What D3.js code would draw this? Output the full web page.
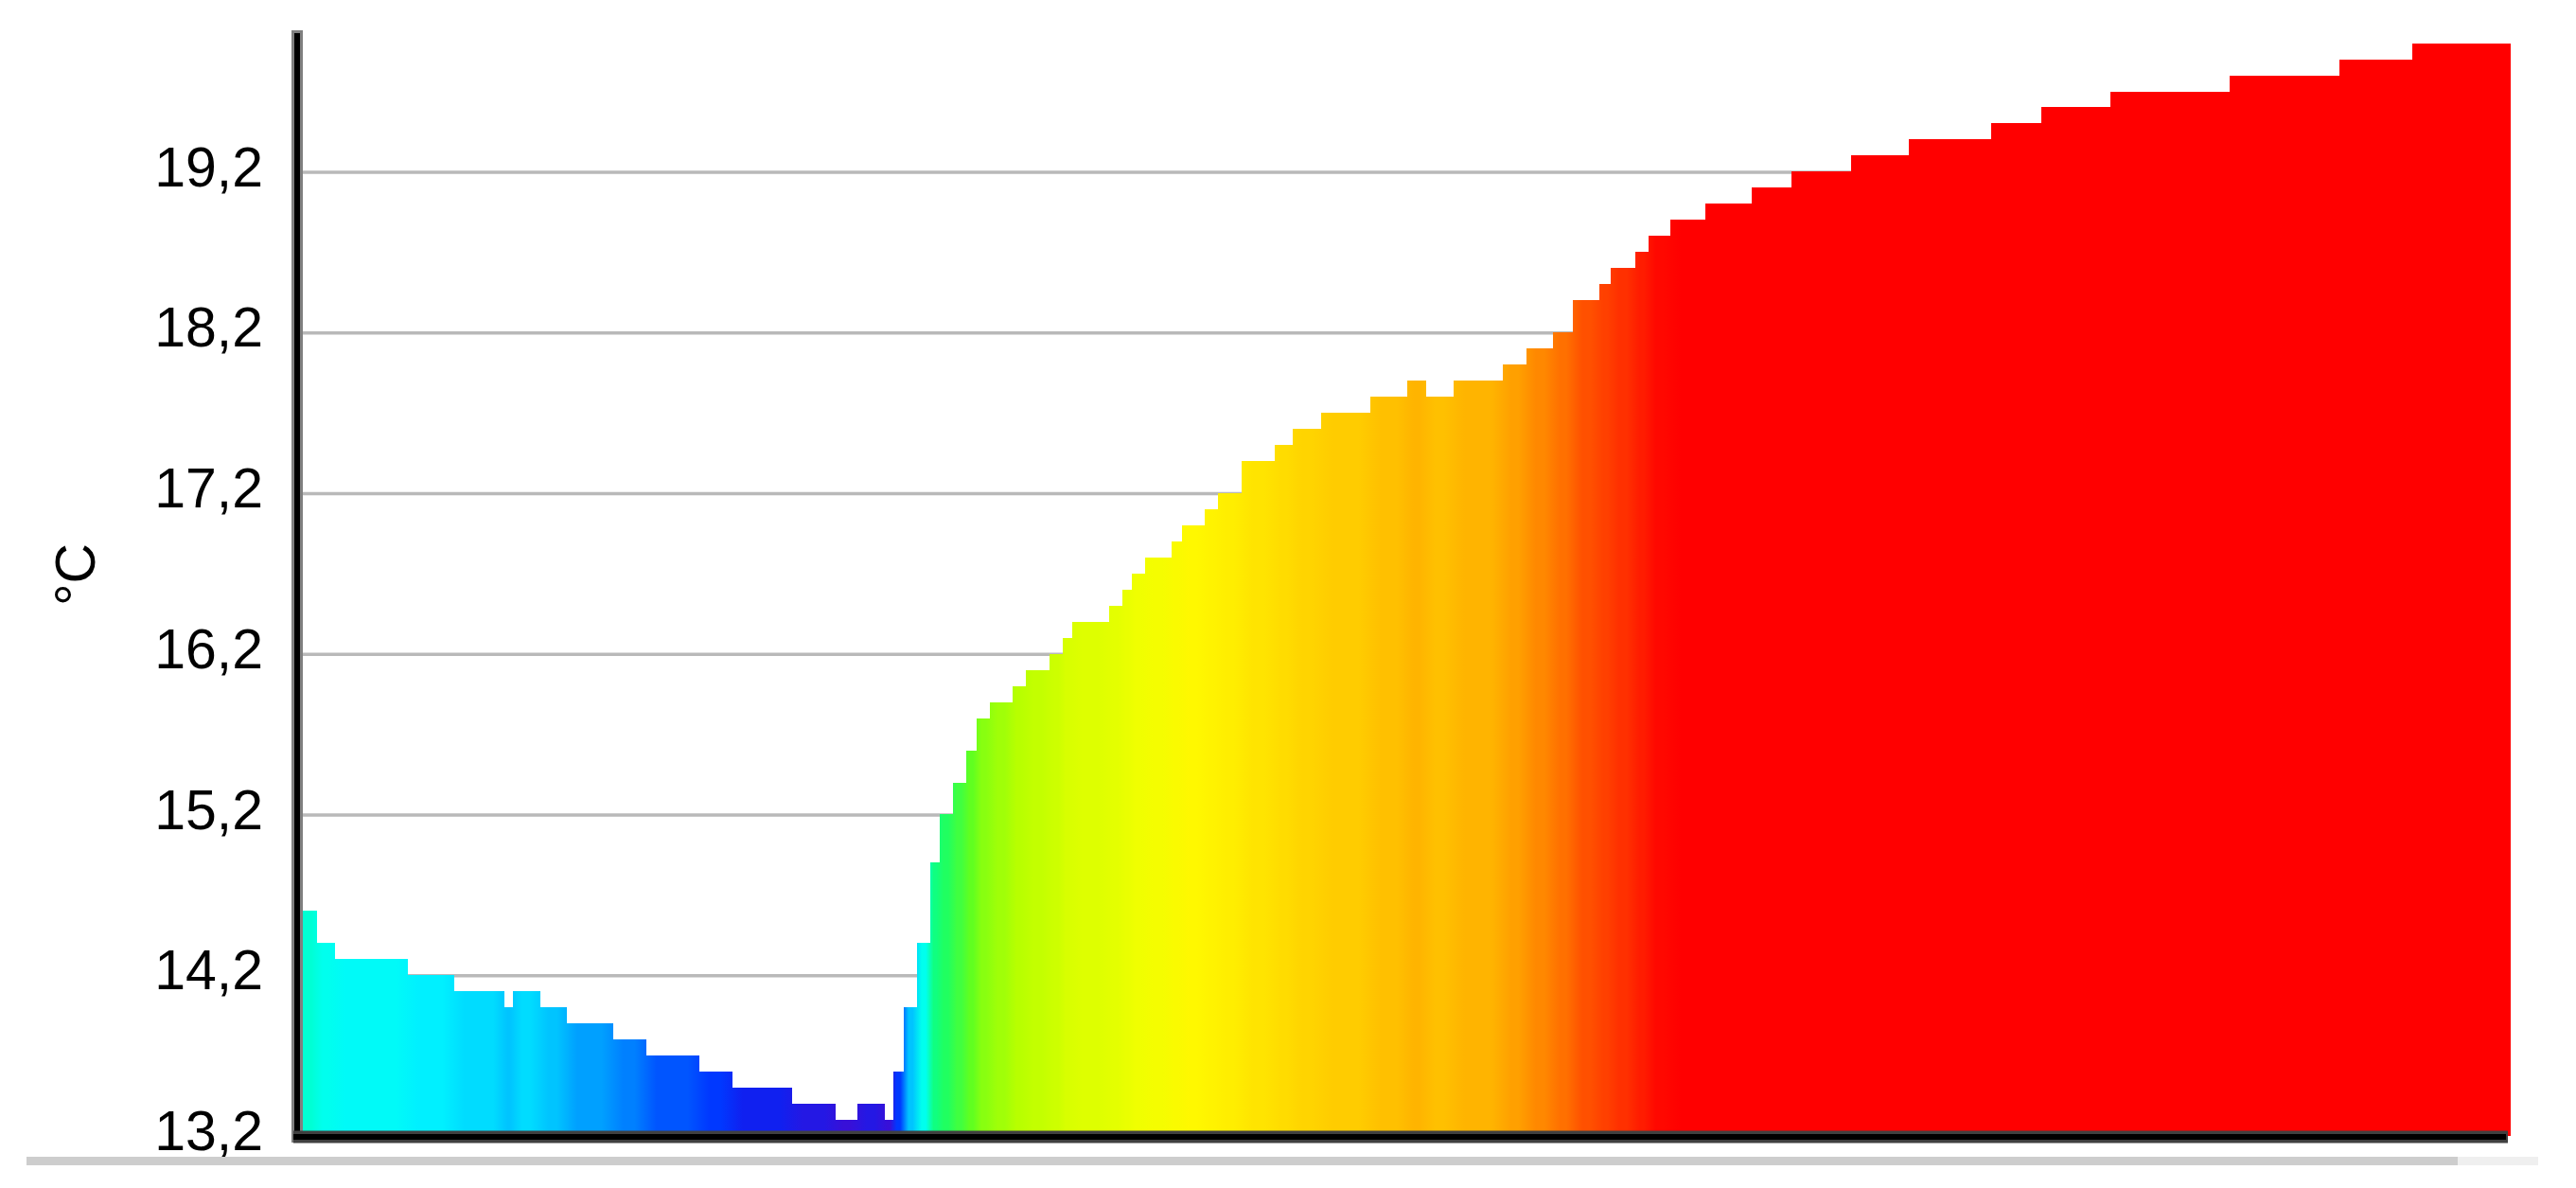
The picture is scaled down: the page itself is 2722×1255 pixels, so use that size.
<!DOCTYPE html>
<html>
<head>
<meta charset="utf-8">
<script src="https://cdn.jsdelivr.net/npm/d3@7"></script>
<style>
  html, body { margin: 0; padding: 0; background: #fff; }
  svg { display: block; }
</style>
</head>
<body>
<div id="chart"></div>
<script>
// step start positions along the run (0..1000) and the temperature of each step
const stepStart = [0, 7, 15, 48, 69, 92, 96, 108, 120, 141,
  156, 180, 195, 222, 242, 252, 264, 268, 273, 279,
  285, 289, 295, 301, 306, 312, 322, 328, 339, 345,
  349, 366, 372, 376, 382, 394, 399, 409, 415, 426,
  441, 449, 462, 484, 501, 509, 522, 544, 555, 567,
  576, 588, 593, 604, 610, 620, 636, 657, 675, 702,
  728, 765, 788, 819, 873, 923, 956];
const stepTemp = [14.6, 14.4, 14.3, 14.2, 14.1, 14.0, 14.1, 14.0, 13.9, 13.8,
  13.7, 13.6, 13.5, 13.4, 13.3, 13.4, 13.3, 13.6, 14.0, 14.4,
  14.9, 15.2, 15.4, 15.6, 15.8, 15.9, 16.0, 16.1, 16.2, 16.3,
  16.4, 16.5, 16.6, 16.7, 16.8, 16.9, 17.0, 17.1, 17.2, 17.4,
  17.5, 17.6, 17.7, 17.8, 17.9, 17.8, 17.9, 18.0, 18.1, 18.2,
  18.4, 18.5, 18.6, 18.7, 18.8, 18.9, 19.0, 19.1, 19.2, 19.3,
  19.4, 19.5, 19.6, 19.7, 19.8, 19.9, 20.0];
const runEnd = 1000;

const yTicks = [13.2, 14.2, 15.2, 16.2, 17.2, 18.2, 19.2];
const yMin = 13.2, yMax = 20.08;
const yLabel = "°C";

// temperature colour map
const colorTemps = [13.3, 13.5, 13.6, 13.7, 13.8, 13.9, 14.0, 14.1, 14.2, 14.35,
  14.6, 14.9, 15.2, 15.4, 15.6, 15.8, 16.0, 16.3, 16.7, 17.0,
  17.4, 17.7, 17.9, 18.0, 18.1, 18.2, 18.4, 18.6, 18.8, 18.9];
const colorHexes = ["#3810d8", "#1020f0", "#0038ff", "#0055ff", "#0080ff", "#00a0ff", "#00c4ff", "#00dcff", "#00f0ff", "#00fff4",
  "#00ffd4", "#10ff80", "#20ff60", "#40ff40", "#60ff20", "#88ff10", "#b8ff00", "#d8ff00", "#f0ff00", "#fff800",
  "#ffe400", "#ffcc00", "#ffb400", "#ffa000", "#ff8800", "#ff7000", "#ff5000", "#ff3000", "#ff0800", "#ff0000"];

const W = 2722, H = 1255;
const plot = { left: 318, right: 2652, top: 32, bottom: 1200 };

const steps = stepStart.map((s, i) => ({
  start: s,
  end: i < stepStart.length - 1 ? stepStart[i + 1] : runEnd,
  temp: stepTemp[i],
}));

const svg = d3.select("#chart").append("svg")
  .attr("width", W)
  .attr("height", H);

svg.append("rect").attr("width", W).attr("height", H).attr("fill", "#fff");

const x = d3.scaleLinear().domain([0, runEnd]).range([plot.left, plot.right]);
const y = d3.scaleLinear().domain([yMin, yMax]).range([plot.bottom, plot.top]);
const color = d3.scaleLinear().domain(colorTemps).range(colorHexes).clamp(true);

// horizontal gradient, colour held over the middle of each step
const grad = svg.append("defs").append("linearGradient")
  .attr("id", "tempGrad")
  .attr("gradientUnits", "userSpaceOnUse")
  .attr("x1", x(0)).attr("x2", x(runEnd))
  .attr("y1", 0).attr("y2", 0);
const stops = [];
steps.forEach((d) => {
  const w = d.end - d.start;
  const pad = Math.min(w * 0.35, 5);
  stops.push({ o: (d.start + pad) / runEnd, c: color(d.temp) });
  stops.push({ o: (d.end - pad) / runEnd, c: color(d.temp) });
});
grad.selectAll("stop").data(stops).join("stop")
  .attr("offset", (d) => d.o)
  .attr("stop-color", (d) => d.c);

// gridlines
const grid = svg.append("g")
  .attr("transform", `translate(${plot.left},0)`)
  .call(d3.axisLeft(y).tickValues(yTicks.slice(1)).tickSize(-(plot.right - plot.left)).tickFormat(""));
grid.select(".domain").remove();
grid.selectAll(".tick line").attr("stroke", "#b9b9b9").attr("stroke-width", 3.5);

// bars
svg.append("g").selectAll("rect")
  .data(steps)
  .join("rect")
  .attr("x", (d) => x(d.start))
  .attr("width", (d) => x(d.end) - x(d.start) + 0.6)
  .attr("y", (d) => y(d.temp))
  .attr("height", (d) => y(yMin) - y(d.temp))
  .attr("fill", "url(#tempGrad)")
  .attr("shape-rendering", "crispEdges");

// tick labels
const yAxis = svg.append("g")
  .attr("transform", `translate(${plot.left},0)`)
  .call(d3.axisLeft(y).tickValues(yTicks).tickSize(0).tickPadding(40)
    .tickFormat((d) => d.toFixed(1).replace(".", ",")));
yAxis.select(".domain").remove();
yAxis.selectAll(".tick text")
  .attr("dy", "0.25em")
  .attr("fill", "#000")
  .style("font-family", "'Liberation Sans', Arial, sans-serif")
  .style("font-size", "59px");

// axis lines
svg.append("line")
  .attr("x1", 314).attr("x2", 314).attr("y1", plot.top).attr("y2", 1207)
  .attr("stroke", "#808080").attr("stroke-width", 12);
svg.append("line")
  .attr("x1", 314).attr("x2", 314).attr("y1", plot.top + 3).attr("y2", 1204)
  .attr("stroke", "#000").attr("stroke-width", 6);
svg.append("line")
  .attr("x1", 310).attr("x2", 2650).attr("y1", 1201).attr("y2", 1201)
  .attr("stroke", "#404040").attr("stroke-width", 13);
svg.append("line")
  .attr("x1", 310).attr("x2", 2648).attr("y1", 1201).attr("y2", 1201)
  .attr("stroke", "#000").attr("stroke-width", 6);

// axis title
svg.append("text")
  .attr("transform", "translate(100,607) rotate(-90)")
  .attr("text-anchor", "middle")
  .style("font-family", "'Liberation Sans', Arial, sans-serif")
  .style("font-size", "59px")
  .text(yLabel);

// scrollbar strip under the chart
svg.append("rect").attr("x", 28).attr("y", 1222).attr("width", 2569).attr("height", 9).attr("fill", "#cdcdcd");
svg.append("rect").attr("x", 2597).attr("y", 1222).attr("width", 85).attr("height", 9).attr("fill", "#efefef");
</script>
</body>
</html>
